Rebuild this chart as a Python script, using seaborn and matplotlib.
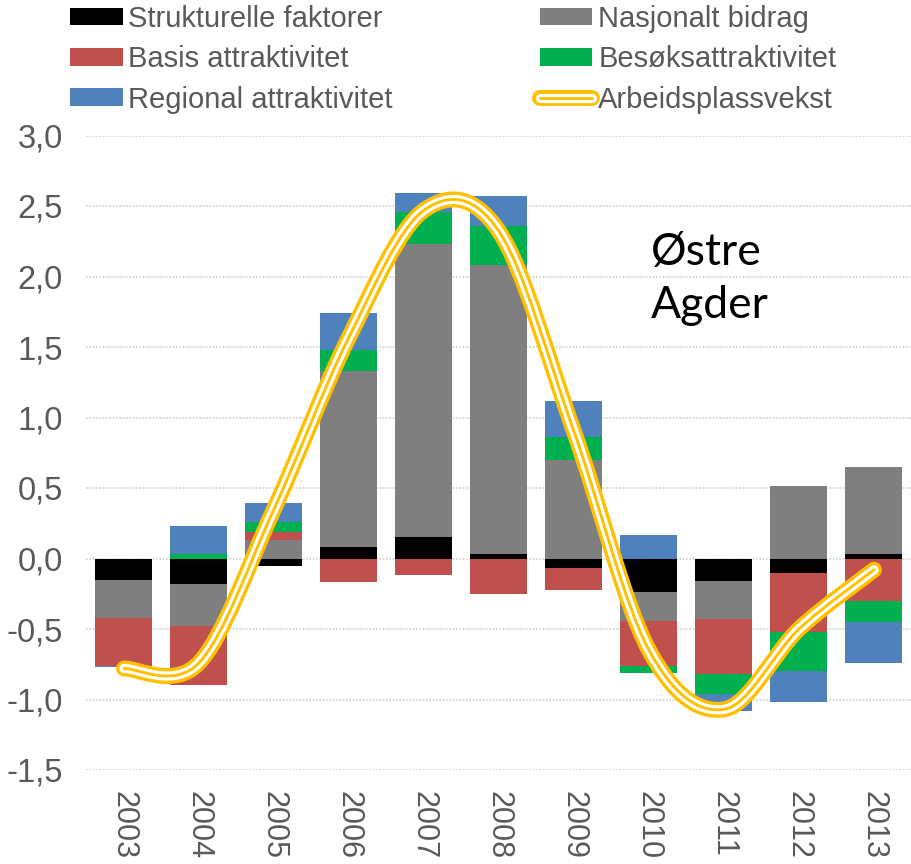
import numpy as np
import pandas as pd
import matplotlib
matplotlib.use("Agg")
import matplotlib.pyplot as plt
import seaborn as sns
from matplotlib import font_manager
from matplotlib.path import Path
from matplotlib.patches import PathPatch, Patch
from matplotlib.lines import Line2D
from matplotlib.legend_handler import HandlerTuple
from matplotlib.ticker import FuncFormatter

# ---------------- data ----------------
years = ["2003", "2004", "2005", "2006", "2007", "2008", "2009", "2010", "2011", "2012", "2013"]
strukturelle = [-0.15, -0.18, -0.05, 0.08, 0.15, 0.03, -0.07, -0.24, -0.16, -0.10, 0.03]
nasjonalt    = [-0.27, -0.30, 0.13, 1.25, 2.08, 2.05, 0.70, -0.20, -0.27, 0.515, 0.62]
basis        = [-0.34, -0.42, 0.055, -0.17, -0.12, -0.25, -0.15, -0.32, -0.39, -0.42, -0.30]
besok        = [0.00, 0.03, 0.075, 0.15, 0.23, 0.28, 0.16, -0.055, -0.14, -0.28, -0.15]
regional     = [-0.01, 0.20, 0.135, 0.26, 0.13, 0.21, 0.26, 0.165, -0.12, -0.22, -0.29]
arbeidsplassvekst = [-0.78, -0.74, 0.35, 1.57, 2.47, 2.32, 0.90, -0.65, -1.07, -0.50, -0.08]

series_names = ["Strukturelle faktorer", "Nasjonalt bidrag", "Basis attraktivitet",
                "Besøksattraktivitet", "Regional attraktivitet"]
series_values = [strukturelle, nasjonalt, basis, besok, regional]
colors = ["#000000", "#7F7F7F", "#C0504D", "#00B050", "#4F81BD"]
line_name = "Arbeidsplassvekst"
gold = "#FFC000"
txt_col = "#595959"

# ---------------- fonts ----------------
sns.set_theme(style="white")
avail = {f.name for f in font_manager.fontManager.ttflist}
if "Liberation Sans Narrow" in avail:
    narrow = "Liberation Sans Narrow"
    leg_fs = 25
    tick_fs = 26
else:
    narrow = "Liberation Sans"
    leg_fs = 21
    tick_fs = 23.5
plt.rcParams["font.family"] = [narrow, "Liberation Sans", "DejaVu Sans"]

fig = plt.figure(figsize=(9.12, 8.64), dpi=100)
W, H = 912, 864
ax = fig.add_axes([86.5 / W, 1 - 770 / H, 825 / W, (770 - 135.5) / H])

# ---------------- stacked bars ----------------
n = len(years)
pos_bottom = np.zeros(n)
neg_bottom = np.zeros(n)
for name, vals, col in zip(series_names, series_values, colors):
    v = np.array(vals, dtype=float)
    bottom = np.where(v >= 0, pos_bottom, neg_bottom)
    df = pd.DataFrame({"year": years, "value": v})
    sns.barplot(data=df, x="year", y="value", order=years, color=col,
                saturation=1, width=0.76, bottom=bottom, ax=ax,
                linewidth=0, errorbar=None)
    pos_bottom = pos_bottom + np.where(v >= 0, v, 0)
    neg_bottom = neg_bottom + np.where(v < 0, v, 0)

# ---------------- smoothed line (Bezier through points) ----------------
xs = np.arange(n, dtype=float)
ys = np.array(arbeidsplassvekst, dtype=float)
verts = [(xs[0], ys[0])]
codes = [Path.MOVETO]
for i in range(n - 1):
    p0 = np.array([xs[i], ys[i]])
    p1 = np.array([xs[i + 1], ys[i + 1]])
    pm = np.array([xs[i - 1], ys[i - 1]]) if i > 0 else p0
    p2 = np.array([xs[i + 2], ys[i + 2]]) if i + 2 < n else p1
    c1 = p0 + (p1 - pm) / 6.0
    c2 = p1 - (p2 - p0) / 6.0
    verts += [tuple(c1), tuple(c2), tuple(p1)]
    codes += [Path.CURVE4] * 3
path = Path(verts, codes)
LW = [(11.5, gold, 5), (6.6, "white", 6), (2.1, gold, 7)]
for lw, col, z in LW:
    pp = PathPatch(path, fill=False, edgecolor=col, linewidth=lw,
                   capstyle="round", joinstyle="round", zorder=z)
    ax.add_patch(pp)

# ---------------- axes styling ----------------
ax.set_xlim(-0.5, n - 0.5)
ax.set_ylim(-1.5, 3.0)
ax.set_yticks(np.arange(-1.5, 3.01, 0.5))
ax.yaxis.set_major_formatter(FuncFormatter(lambda v, p: f"{v:.1f}".replace(".", ",")))
ax.grid(axis="y", color="#D0D0D0", linestyle=(0, (1, 1)), linewidth=1.2)
ax.grid(axis="x", visible=False)
ax.set_axisbelow(True)
for s in ax.spines.values():
    s.set_visible(False)
ax.set_xlabel("")
ax.set_ylabel("")
ax.tick_params(axis="y", length=0, pad=17, labelsize=tick_fs, labelcolor=txt_col)
ax.tick_params(axis="x", length=0, pad=15, labelsize=22, labelcolor=txt_col)
for lab in ax.get_xticklabels():
    lab.set_rotation(-90)
    lab.set_va("top")
    lab.set_ha("center")
    lab.set_family(["Liberation Sans", "DejaVu Sans"])
ax.set_facecolor("white")
fig.patch.set_facecolor("white")

# ---------------- annotation ----------------
fig.text(651 / W, 1 - 265 / H, "Østre", fontsize=32, family=["Lato", "DejaVu Sans"],
         color="black", va="baseline", ha="left")
fig.text(651 / W, 1 - 318 / H, "Agder", fontsize=32, family=["Lato", "DejaVu Sans"],
         color="black", va="baseline", ha="left")

# ---------------- legend ----------------
patches = [Patch(facecolor=c, edgecolor="none") for c in colors]
line_handle = tuple(Line2D([], [], color=c, lw=lw, solid_capstyle="round") for lw, c, z in LW)
col1_h = [patches[0], patches[2], patches[4]]
col1_l = [series_names[0], series_names[2], series_names[4]]
col2_h = [patches[1], patches[3], line_handle]
col2_l = [series_names[1], series_names[3], line_name]
common = dict(frameon=False, fontsize=leg_fs, labelcolor=txt_col, handlelength=1.8,
              handleheight=0.55, handletextpad=0.2, labelspacing=0.42,
              borderpad=0, borderaxespad=0, loc="upper left",
              handler_map={tuple: HandlerTuple(ndivide=1, pad=0)})
leg1 = fig.legend(col1_h, col1_l, bbox_to_anchor=(70 / W, 1 - 5 / H), **common)
leg2 = fig.legend(col2_h, col2_l, bbox_to_anchor=(540 / W, 1 - 5 / H), **common)

fig.savefig("out.png", dpi=100, facecolor="white")
